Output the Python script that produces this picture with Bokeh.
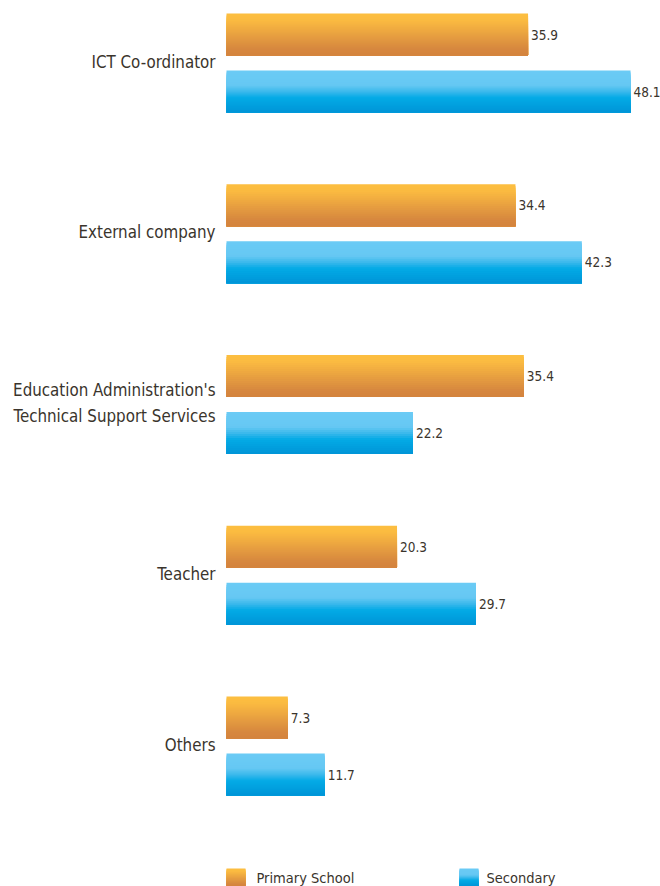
from bokeh.plotting import figure
from bokeh.models import ColumnDataSource, Range1d
from bokeh.core.properties import value
from bokeh.embed import file_html
from bokeh.resources import INLINE

# ---------------- data ----------------
categories = [
    "ICT Co-ordinator",
    "External company",
    "Education Administration's\nTechnical Support Services",
    "Teacher",
    "Others",
]
primary_school = [35.9, 34.4, 35.4, 20.3, 7.3]
secondary = [48.1, 42.3, 22.2, 29.7, 11.7]
series_names = ["Primary School", "Secondary"]

# ---------------- styles / layout ----------------
FONT = "'DejaVu Sans Condensed', Roboto"
TEXT_COLOR = "#3a342c"
W, H = 660, 886
PX_X = 8.4            # pixels per value unit
ZERO_PX = 226         # x pixel of value 0 inside figure
PX_Y = 170.75         # pixels per category step
FIRST_PX = 62.5       # y pixel of first category centre
BAR_PX = 42
OFF_PX = 28.5

orange_stops = [(0.0, "#fcbe40"), (0.15, "#fbbb41"), (0.85, "#d6873f"), (1.0, "#d4843e")]
blue_stops = [(0.0, "#6bcbf5"), (0.35, "#66c8f3"), (0.5, "#3cb9ec"), (0.65, "#03aae6"), (1.0, "#0095d7")]


def hex2rgb(h):
    h = h.lstrip("#")
    return tuple(int(h[i:i + 2], 16) for i in (0, 2, 4))


def grad(stops, t):
    for (t0, c0), (t1, c1) in zip(stops[:-1], stops[1:]):
        if t0 <= t <= t1:
            f = (t - t0) / (t1 - t0) if t1 > t0 else 0
            a, b = hex2rgb(c0), hex2rgb(c1)
            return "#%02x%02x%02x" % tuple(int(round(a[i] + (b[i] - a[i]) * f)) for i in range(3))
    return stops[-1][1]


x_range = Range1d(-ZERO_PX / PX_X, (W - ZERO_PX) / PX_X)
y_range = Range1d((H - FIRST_PX) / PX_Y, -FIRST_PX / PX_Y)  # flipped: index 0 on top

p = figure(width=W, height=H, x_range=x_range, y_range=y_range,
           output_backend="svg", toolbar_location=None,
           x_axis_location=None, y_axis_location=None,
           min_border=0, outline_line_color=None)
p.xgrid.visible = False
p.ygrid.visible = False
p.background_fill_color = "white"
p.border_fill_color = "white"

bar_h = BAR_PX / PX_Y
off = OFF_PX / PX_Y
N = 21


def gradient_bars(lefts, rights, centers, height, stops):
    # each strip reaches from its own top down to the bar bottom; later strips
    # overlay earlier ones, so there are no seams between strips
    ys, ls, rs, hs, cs = [], [], [], [], []
    step = height / N
    for l, r, yc in zip(lefts, rights, centers):
        top = yc - height / 2
        bottom = yc + height / 2
        for k in range(N):
            t = (k + 0.5) / N
            s_top = top + k * step
            ys.append((s_top + bottom) / 2)
            ls.append(l)
            rs.append(r)
            hs.append(bottom - s_top)
            cs.append(grad(stops, t))
    src = ColumnDataSource(dict(y=ys, left=ls, right=rs, height=hs, color=cs))
    p.hbar(y="y", left="left", right="right", height="height", source=src,
           fill_color="color", line_color=None)


idx = list(range(len(categories)))
gradient_bars([0] * len(idx), primary_school, [i - off for i in idx], bar_h, orange_stops)
gradient_bars([0] * len(idx), secondary, [i + off for i in idx], bar_h, blue_stops)

# value labels
val_src = ColumnDataSource(dict(
    x=primary_school + secondary,
    y=[i - off for i in idx] + [i + off for i in idx],
    t=["%.1f" % v for v in primary_school + secondary],
))
p.text(x="x", y="y", text="t", source=val_src, x_offset=3,
       text_font=value(FONT), text_font_size="13.5px", text_color=TEXT_COLOR,
       text_align="left", text_baseline="middle")

# category labels
cat_src = ColumnDataSource(dict(x=[0] * len(idx), y=idx, t=categories))
p.text(x="x", y="y", text="t", source=cat_src, x_offset=-11, y_offset=-1.5,
       text_font=value(FONT), text_font_size="16.8px", text_color=TEXT_COLOR,
       text_align="right", text_baseline="middle", text_line_height=1.3)

# legend (manual, with gradient swatches)
leg_y = (877 - FIRST_PX) / PX_Y
sw_h = 18 / PX_Y
gradient_bars([0], [19 / PX_X], [leg_y], sw_h, orange_stops)
gradient_bars([233 / PX_X], [252 / PX_X], [leg_y], sw_h, blue_stops)
leg_src = ColumnDataSource(dict(x=[30 / PX_X, 260 / PX_X], y=[leg_y, leg_y], t=series_names))
p.text(x="x", y="y", text="t", source=leg_src,
       text_font=value(FONT), text_font_size="14.5px", text_color=TEXT_COLOR,
       text_align="left", text_baseline="middle")

open("out.html", "w").write(file_html(p, INLINE))
